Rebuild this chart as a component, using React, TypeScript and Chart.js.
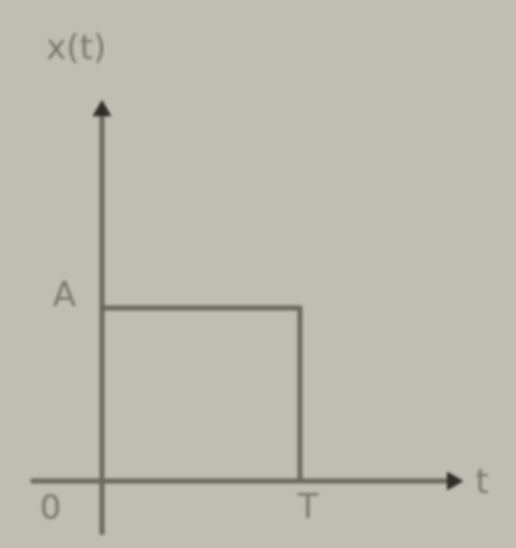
import React, { useEffect, useRef } from "react";
import { Chart, registerables } from "chart.js";

Chart.register(...registerables);

// Rectangular pulse x(t) = A for 0 <= t <= T (units: T = 1, A = 1)
const pulseT = [0, 1, 1];
const pulseX = [1, 1, 0];
// axes
const timeAxisT = [-0.36, 1.77];
const timeAxisX = [0, 0];
const ampAxisT = [0, 0];
const ampAxisX = [-0.31, 2.14];
// labels
const labelTexts = ["x(t)", "A", "0", "T", "t"];
const labelT = [-0.13, -0.19, -0.26, 1.04, 1.92];
const labelX = [2.49, 1.06, -0.17, -0.16, -0.02];

const LINE = "#6b695f";
const HEAD = "#2f2d27";
const BG = "#c0bdb3";
const TEXT = "#7a786f";

const toPts = (xs: number[], ys: number[]) => xs.map((x, i) => ({ x, y: ys[i] }));

export default function App() {
  const ref = useRef<HTMLCanvasElement | null>(null);
  useEffect(() => {
    document.body.style.margin = "0";
    document.body.style.background = BG;
    const bgPlugin = {
      id: "bg",
      beforeDraw(chart: any) {
        const { ctx, width, height } = chart;
        ctx.save();
        ctx.fillStyle = BG;
        ctx.fillRect(0, 0, width, height);
        ctx.restore();
      },
    };
    const labelPlugin = {
      id: "labels",
      afterDatasetsDraw(chart: any) {
        const { ctx, scales } = chart;
        ctx.save();
        ctx.fillStyle = TEXT;
        ctx.font = "34px 'DejaVu Sans', sans-serif";
        ctx.textAlign = "center";
        ctx.textBaseline = "middle";
        labelTexts.forEach((s, i) => {
          ctx.fillText(s, scales.x.getPixelForValue(labelT[i]), scales.y.getPixelForValue(labelX[i]));
        });
        ctx.restore();
      },
    };
    const chart = new Chart(ref.current!, {
      type: "scatter",
      data: {
        datasets: [
          {
            data: toPts(timeAxisT, timeAxisX),
            showLine: true,
            borderColor: LINE,
            borderWidth: 5,
            pointRadius: [0, 6],
            pointStyle: "triangle",
            rotation: 90,
            pointBackgroundColor: HEAD,
            pointBorderColor: HEAD,
          } as any,
          {
            data: toPts(ampAxisT, ampAxisX),
            showLine: true,
            borderColor: LINE,
            borderWidth: 5,
            pointRadius: [0, 6],
            pointStyle: "triangle",
            rotation: 0,
            pointBackgroundColor: HEAD,
            pointBorderColor: HEAD,
          } as any,
          {
            data: toPts(pulseT, pulseX),
            showLine: true,
            borderColor: LINE,
            borderWidth: 5,
            pointRadius: 0,
            borderJoinStyle: "miter",
          } as any,
        ],
      },
      options: {
        animation: false,
        responsive: false,
        layout: { padding: 0, autoPadding: false },
        plugins: { legend: { display: false }, tooltip: { enabled: false } },
        scales: {
          x: { type: "linear", display: false, min: -0.515, max: 2.091 },
          y: { type: "linear", display: false, min: -0.387, max: 2.78 },
        },
      },
      plugins: [bgPlugin, labelPlugin],
    });
    return () => chart.destroy();
  }, []);
  return (
    <canvas
      ref={ref}
      width={516}
      height={548}
      style={{ display: "block", width: 516, height: 548, filter: "blur(1.4px)" }}
    />
  );
}
